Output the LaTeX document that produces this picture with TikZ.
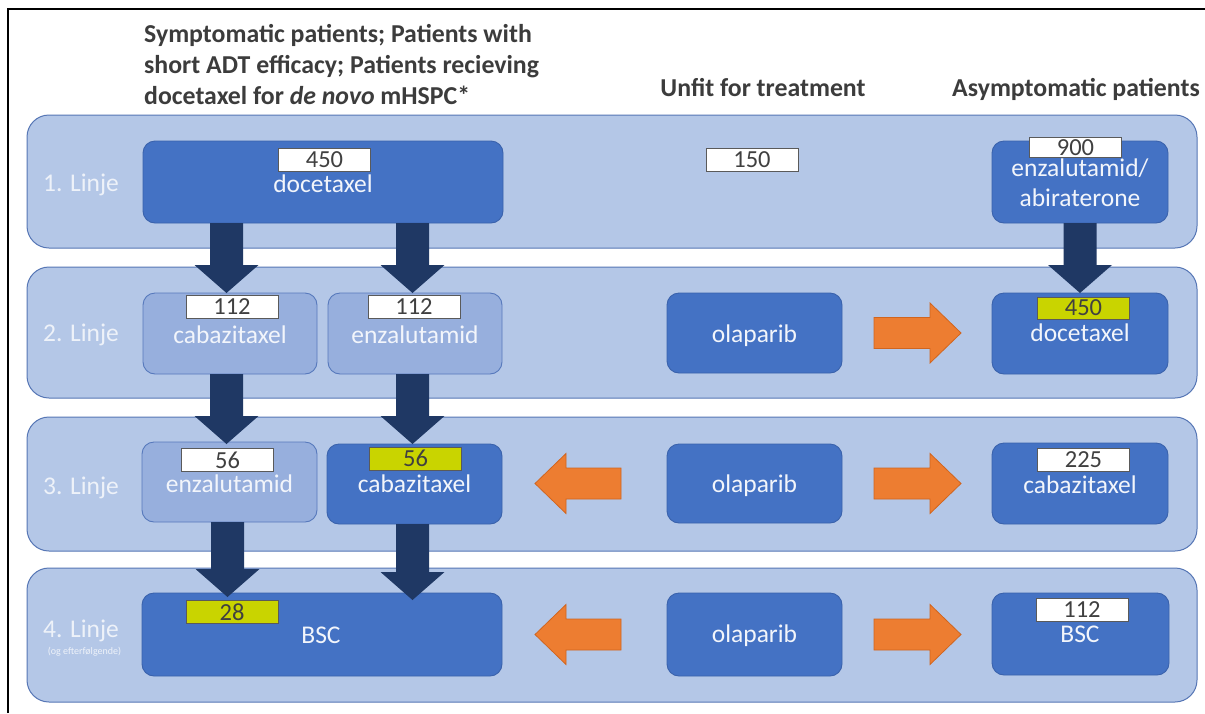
\documentclass[tikz,border=0pt]{standalone}
\usepackage{fontspec}
\setmainfont{Carlito}
\usetikzlibrary{calc,fit}
\definecolor{bandfill}{HTML}{B4C7E7}
\definecolor{banddraw}{HTML}{5676B5}
\definecolor{darkboxfill}{HTML}{4472C4}
\definecolor{darkboxdraw}{HTML}{3A62AC}
\definecolor{lightboxfill}{HTML}{97AFDD}
\definecolor{lightboxdraw}{HTML}{5779BC}
\definecolor{navyc}{HTML}{1F3864}
\definecolor{orangefill}{HTML}{ED7D31}
\definecolor{orangedraw}{HTML}{D0651F}
\definecolor{yellowlbl}{HTML}{C9D400}
\definecolor{lblborder}{HTML}{5A5A5A}
\definecolor{lbltext}{HTML}{404040}
\definecolor{hdrtext}{HTML}{3C3C3C}
\definecolor{rowtext}{HTML}{EEF2F9}
\definecolor{boxtextc}{HTML}{F2F5FB}
\tikzset{
  band/.style={draw=banddraw, line width=1pt, fill=bandfill, rounded corners=22pt, inner sep=0pt, outer sep=0pt},
  darkbox/.style={draw=darkboxdraw, line width=0.9pt, fill=darkboxfill, rounded corners=12pt, inner sep=0pt, outer sep=0pt},
  lightbox/.style={draw=lightboxdraw, line width=0.9pt, fill=lightboxfill, rounded corners=12pt, inner sep=0pt, outer sep=0pt},
  boxtext/.style={anchor=base, inner sep=0pt, text=boxtextc, font=\fontsize{25.5}{28}\selectfont},
  rowlabel/.style={anchor=base, inner sep=0pt, text=rowtext, font=\fontsize{25.5}{28}\selectfont},
  hdr/.style={inner sep=0pt, text=hdrtext, font=\fontsize{25.8}{31}\selectfont\bfseries},
  numlbl/.style={draw=lblborder, line width=0.8pt, fill=white, minimum width=92pt, minimum height=23pt, inner sep=0pt, text=lbltext, font=\fontsize{24.5}{26}\selectfont},
  yellownum/.style={numlbl, fill=yellowlbl},
  navyarrow/.style={fill=navyc},
  orangearrow/.style={fill=orangefill, draw=orangedraw, line width=0.8pt, line join=miter}
}
\newcommand{\navyarr}[3]{%
  \fill[navyarrow] let \p1=(#1), \p2=(#2) in
    (\x1-16.5pt,\y1) -- (\x1-16.5pt,\y2-#3pt+28pt) -- (\x1-32pt,\y2-#3pt+28pt) --
    (\x1,\y2-#3pt) -- (\x1+32pt,\y2-#3pt+28pt) -- (\x1+16.5pt,\y2-#3pt+28pt) --
    (\x1+16.5pt,\y1) -- cycle;}
\newcommand{\orangearr}[2]{%
  \filldraw[orangearrow] let \p1=(#1), \p2=(#2), \p3=($(#2)!31pt!(#1)$) in
    (\x1,\y1+15.5pt) -- (\x3,\y1+15.5pt) -- (\x3,\y1+30pt) -- (\x2,\y1) --
    (\x3,\y1-30pt) -- (\x3,\y1-15.5pt) -- (\x1,\y1-15.5pt) -- cycle;}
\begin{document}
\begin{tikzpicture}[x=1pt,y=-1pt]
\useasboundingbox (0,0) rectangle (1205,713);
\fill[white] (0,0) rectangle (1205,713);
% frame
\draw[line width=2pt, black] (8,713) -- (8,9) -- (1205,9);

% headers
\node[hdr, anchor=base west] (hdr1) at (144,42) {Symptomatic patients; Patients with};
\node[hdr, anchor=base west] (hdr2) at (144,73) {short ADT efficacy; Patients recieving};
\node[hdr, anchor=base west] (hdr3) at (144,104) {docetaxel for \textit{de novo} mHSPC*};
\node[hdr, anchor=base] (hdrunfit) at (763,96) {Unfit for treatment};
\node[hdr, anchor=base] (hdrasym) at (1076,96) {Asymptomatic patients};

% row bands
\node[band, fit={(27,115) (1197,248)}] (row1) {};
\node[band, fit={(27,267) (1197,398)}] (row2) {};
\node[band, fit={(27,417) (1197,551)}] (row3) {};
\node[band, fit={(27,568) (1197,702)}] (row4) {};

% row labels
\node[rowlabel] (r1) at (81,191) {1. Linje};
\node[rowlabel] (r2) at (81,341) {2. Linje};
\node[rowlabel] (r3) at (81,494) {3. Linje};
\node[rowlabel] (r4) at (81,637) {4. Linje};
\node[anchor=base, inner sep=0pt, text=rowtext, font=\fontsize{10}{12}\selectfont] (r4b) at (84.5,654) {(og efterfølgende)};

% boxes
\node[darkbox, fit={(143,141) (503,223)}] (doc1) {};
\node[darkbox, fit={(992,141) (1168,223)}] (ea1) {};
\node[lightbox, fit={(143,293) (317,374)}] (cab2) {};
\node[lightbox, fit={(328,293) (502,374)}] (enz2) {};
\node[darkbox, fit={(667,293) (842,373)}] (ola2) {};
\node[darkbox, fit={(992,293) (1168,374)}] (doc2r) {};
\node[lightbox, fit={(142,442) (317,522)}] (enz3) {};
\node[darkbox, fit={(327,444) (502,524)}] (cab3) {};
\node[darkbox, fit={(667,444) (842,523)}] (ola3) {};
\node[darkbox, fit={(992,443) (1168,524)}] (cab3r) {};
\node[darkbox, fit={(142,593) (502,676)}] (bsc4) {};
\node[darkbox, fit={(667,593) (842,676)}] (ola4) {};
\node[darkbox, fit={(992,593) (1169,675)}] (bsc4r) {};

% box texts
\node[boxtext] (doc1t) at (323,192) {docetaxel};
\node[boxtext] (ea1ta) at (1080,176) {enzalutamid/};
\node[boxtext] (ea1tb) at (1080,206) {abiraterone};
\node[boxtext] (cab2t) at (230,343) {cabazitaxel};
\node[boxtext] (enz2t) at (415,343) {enzalutamid};
\node[boxtext] (ola2t) at (754.5,342) {olaparib};
\node[boxtext] (doc2rt) at (1080,341) {docetaxel};
\node[boxtext] (enz3t) at (229.5,492) {enzalutamid};
\node[boxtext] (cab3t) at (414.5,492) {cabazitaxel};
\node[boxtext] (ola3t) at (754.5,492) {olaparib};
\node[boxtext] (cab3rt) at (1080,493) {cabazitaxel};
\node[boxtext] (bsc4t) at (321,643) {BSC};
\node[boxtext] (ola4t) at (754.5,642) {olaparib};
\node[boxtext] (bsc4rt) at (1080,642) {BSC};

% navy block arrows
\coordinate (a1s) at (226.5,223);
\coordinate (a2s) at (412.5,223);
\coordinate (a3s) at (226.5,374);
\coordinate (a4s) at (412.5,374);
\coordinate (a5s) at (227.5,522);
\coordinate (a6s) at (412.5,524);
\coordinate (a7s) at (1080,223);
\navyarr{a1s}{cab2.north}{0}
\navyarr{a2s}{enz2.north}{0}
\navyarr{a3s}{enz3.north}{2}
\navyarr{a4s}{cab3.north}{0}
\navyarr{a5s}{bsc4.north}{4}
\navyarr{a6s}{bsc4.north}{7}
\navyarr{a7s}{doc2r.north}{0}

% orange block arrows
\orangearr{$(ola2.east)+(32,0)$}{$(doc2r.west)+(-31,0)$}
\orangearr{$(ola3.east)+(32,0)$}{$(cab3r.west)+(-31,0)$}
\orangearr{$(ola3.west)+(-46,0)$}{$(cab3.east)+(33,0)$}
\orangearr{$(ola4.east)+(32,0)$}{$(bsc4r.west)+(-31,0)$}
\orangearr{$(ola4.west)+(-46,0)$}{$(bsc4.east)+(33,0)$}

% number labels
\node[numlbl] (n450a) at (324.5,159.5) {450};
\node[numlbl] (n150) at (752,159.5) {150};
\node[numlbl, minimum height=20pt] (n900) at (1075.5,147.5) {900};
\node[numlbl] (n112a) at (232,307) {112};
\node[numlbl] (n112b) at (414,307) {112};
\node[yellownum, minimum height=22pt] (n450b) at (1083.5,308) {450};
\node[numlbl] (n56a) at (227.5,460) {56};
\node[yellownum] (n56b) at (415.5,458.5) {56};
\node[numlbl] (n225) at (1083.5,459.5) {225};
\node[yellownum] (n28) at (232,612) {28};
\node[numlbl] (n112c) at (1082,610) {112};
\end{tikzpicture}
\end{document}
